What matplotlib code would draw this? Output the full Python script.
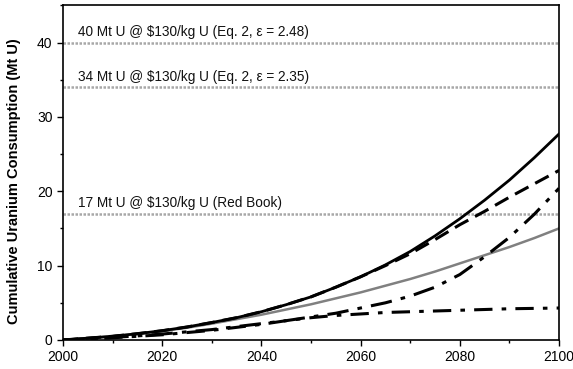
import matplotlib
matplotlib.use("Agg")
import matplotlib.pyplot as plt
from matplotlib.ticker import MultipleLocator

years = [2000, 2005, 2010, 2015, 2020, 2025, 2030, 2035, 2040, 2045, 2050,
         2055, 2060, 2065, 2070, 2075, 2080, 2085, 2090, 2095, 2100]
solid_black = [0, 0.25, 0.5, 0.85, 1.25, 1.75, 2.35, 3.0, 3.8, 4.75, 5.8,
               7.1, 8.5, 10.1, 11.9, 14.0, 16.3, 18.8, 21.5, 24.5, 27.7]
dashed = [0, 0.25, 0.5, 0.85, 1.25, 1.75, 2.35, 3.0, 3.8, 4.75, 5.8,
          7.1, 8.5, 10.0, 11.6, 13.5, 15.5, 17.3, 19.2, 21.0, 22.8]
dashdot = [0, 0.15, 0.35, 0.55, 0.8, 1.1, 1.4, 1.8, 2.2, 2.6, 3.1,
           3.6, 4.3, 5.0, 5.9, 7.1, 8.8, 11.2, 13.8, 16.9, 20.4]
grey = [0, 0.25, 0.5, 0.8, 1.2, 1.65, 2.2, 2.8, 3.4, 4.1, 4.8,
        5.6, 6.4, 7.3, 8.2, 9.2, 10.3, 11.4, 12.5, 13.7, 15.0]
lowest = [0, 0.12, 0.3, 0.5, 0.7, 1.0, 1.3, 1.7, 2.1, 2.6, 3.0,
          3.3, 3.5, 3.7, 3.8, 3.9, 4.0, 4.1, 4.2, 4.25, 4.3]

ref_values = [40, 34, 17]
ref_labels = ["40 Mt U @ \\$130/kg U (Eq. 2, ε = 2.48)",
              "34 Mt U @ \\$130/kg U (Eq. 2, ε = 2.35)",
              "17 Mt U @ \\$130/kg U (Red Book)"]

plt.rcParams['font.family'] = ['Liberation Sans', 'DejaVu Sans']

fig = plt.figure(figsize=(5.73, 3.69), dpi=100)
ax = fig.add_axes([0.110, 0.0786, 0.8656, 0.907])

for v, lab in zip(ref_values, ref_labels):
    ax.axhline(v, color='#a8a8a8', lw=1.8, ls=(0, (1, 0.6)), zorder=1)
    ax.text(2003, v + 0.45, lab, fontsize=9.8, ha='left', va='bottom', color='#111111')

ax.plot(years, grey, color='#808080', lw=1.8, zorder=2)
ax.plot(years, lowest, color='black', lw=2.2, ls=(0, (6, 3, 1.5, 3)), zorder=3)
ax.plot(years, dashdot, color='black', lw=2.2, ls=(0, (7, 3, 1.5, 3)), zorder=3)
ax.plot(years, dashed, color='black', lw=2.2, ls=(0, (5, 2.5)), zorder=3)
ax.plot(years, solid_black, color='black', lw=2.0, zorder=4)

ax.set_xlim(2000, 2100)
ax.set_ylim(0, 45)
ax.xaxis.set_major_locator(MultipleLocator(20))
ax.xaxis.set_minor_locator(MultipleLocator(10))
ax.yaxis.set_major_locator(MultipleLocator(10))
ax.yaxis.set_minor_locator(MultipleLocator(5))
ax.tick_params(axis='both', which='major', labelsize=10, direction='out', length=4, width=1)
ax.tick_params(axis='both', which='minor', direction='out', length=2.5, width=1)
for s in ax.spines.values():
    s.set_linewidth(1.2)
ax.set_ylabel("Cumulative Uranium Consumption (Mt U)", fontsize=10.5, fontweight='bold')
ax.yaxis.set_label_coords(-0.085, 0.475)

fig.savefig("out.png", dpi=100)
